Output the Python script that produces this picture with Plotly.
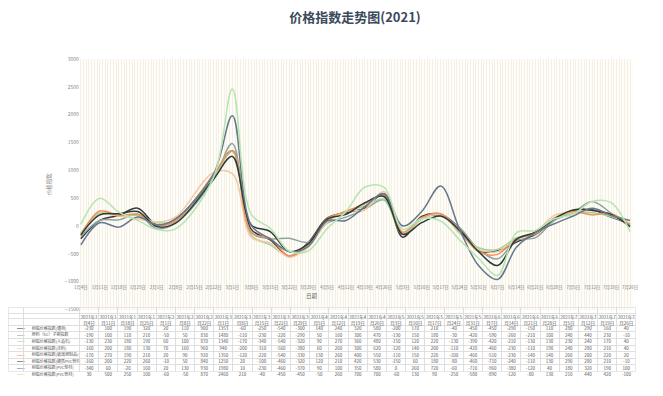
import plotly.graph_objects as go

# ---------------- data ----------------
dates = ['2021-01-04', '2021-01-11', '2021-01-18', '2021-01-25', '2021-02-01', '2021-02-08',
         '2021-02-22', '2021-03-01', '2021-03-08', '2021-03-15', '2021-03-22', '2021-03-29',
         '2021-04-05', '2021-04-12', '2021-04-19', '2021-04-26', '2021-05-03', '2021-05-10',
         '2021-05-17', '2021-05-24', '2021-05-31', '2021-06-07', '2021-06-14', '2021-06-21',
         '2021-06-28', '2021-07-05', '2021-07-12', '2021-07-19', '2021-07-26']

names = ['树脂价格指数(通用)', '原料（EC）子期指数', '树脂价格指数(人造石)', '树脂价格指数(涂料)',
         '树脂价格指数(玻璃钢制品)', '树脂价格指数(硬质PVC管材)', '树脂价格指数(PVC型材)',
         '树脂价格指数(PVC管材)']

s1 = [-230, 100, 190, 320, 20, 110, 900, 1353, -60, -250, -540, -300, 140, 240, 320, 580, -200, 170, 210, -40, -450, -450, -290, -150, 110, 280, 290, 160, 40]
s2 = [-190, 100, 110, 210, -50, 50, 830, 1480, -110, -230, -220, -290, 50, 160, 300, 470, -130, 150, 180, -30, -420, -590, -260, -210, 100, 240, 440, 230, -10]
s3 = [-130, 230, 180, 190, 60, 100, 870, 1340, -170, -340, -540, -320, 90, 270, 360, 480, -150, 120, 220, -130, -390, -420, -210, -130, 130, 230, 240, 170, 40]
s4 = [-160, 200, 180, 130, 70, 160, 960, 940, -200, -310, -560, -380, 60, 260, 300, 620, -120, 140, 200, -110, -420, -460, -230, -110, 190, 240, 280, 210, 40]
s5 = [-170, 270, 190, 210, 20, 90, 920, 1350, -120, -220, -540, -330, 130, 260, 400, 550, -110, 150, 220, -100, -460, -510, -230, -140, 140, 260, 200, 220, 20]
s6 = [-160, 200, 220, 260, -10, 50, 840, 1250, 20, -100, -460, -320, 120, 210, 420, 530, -150, 60, 180, -80, -460, -710, -240, -110, 130, 290, 280, 210, -10]
s7 = [-340, 60, -20, 160, 20, 130, 930, 1980, 10, -230, -460, -370, 90, 100, 350, 580, 0, 260, 720, -60, -710, -960, -380, -120, 40, 180, 320, 190, 100]
s8 = [30, 500, 250, 100, -60, -50, 870, 2460, 210, -40, -450, -450, -50, 260, 700, 700, -60, 130, 90, -250, -580, -890, -120, -80, 130, 210, 440, 420, -100]
series = [s1, s2, s3, s4, s5, s6, s7, s8]

colors = ['#3a3a3a', '#8fa3a0', '#9fd59a', '#f2caa4', '#f0915a', '#2b3b3b', '#66788a', '#b7e4b0']

tick_dates = ['2021-01-04', '2021-01-11', '2021-01-18', '2021-01-25', '2021-02-01', '2021-02-08',
              '2021-02-15', '2021-02-22', '2021-03-01', '2021-03-08', '2021-03-15', '2021-03-22',
              '2021-03-29', '2021-04-05', '2021-04-12', '2021-04-19', '2021-04-26', '2021-05-03',
              '2021-05-10', '2021-05-17', '2021-05-24', '2021-05-31', '2021-06-07', '2021-06-14',
              '2021-06-21', '2021-06-28', '2021-07-05', '2021-07-12', '2021-07-19', '2021-07-26']
tick_labels = ['1月4日', '1月11日', '1月18日', '1月25日', '2月1日', '2月8日', '2月15日', '2月22日',
               '3月1日', '3月8日', '3月15日', '3月22日', '3月29日', '4月5日', '4月12日', '4月19日',
               '4月26日', '5月3日', '5月10日', '5月17日', '5月24日', '5月31日', '6月7日', '6月14日',
               '6月21日', '6月28日', '7月5日', '7月12日', '7月19日', '7月26日']

y_ticks = [-1500, -1000, -500, 0, 500, 1000, 1500, 2000, 2500, 3000]

# ---------------- figure ----------------
W, H = 663, 396
def py(p):  # pixel (from top) -> paper fraction
    return 1 - p / H
def px(p):
    return p / W

fig = go.Figure()
for name, vals, col in zip(names, series, colors):
    fig.add_trace(go.Scatter(x=dates, y=vals, name=name, mode='lines',
                             line=dict(color=col, width=1.5, shape='spline', smoothing=1.0),
                             showlegend=False))

# data table (two header rows, legend-key column + name column + one column per date)
hdr_top = ['', ''] + [f"{d[:4]}年{int(d[5:7])}" for d in dates]
hdr_bot = ['', ''] + [f"月{int(d[8:10])}日" for d in dates]
header_vals = [[a, b] for a, b in zip(hdr_top, hdr_bot)]
key_cells = ['━━━'] * len(names)
cell_vals = [key_cells, names]
for i in range(len(dates)):
    cell_vals.append([str(s[i]) for s in series])
txt = '#555555'
font_colors = [colors, [txt] * len(names)] + [[txt] * len(names)] * len(dates)
font_sizes = [4.5, 4.0] + [4.5] * len(dates)

# plotly draws cell text ~cellPad below the cell top, so the table box is lifted a little
lift = 2
top_px = 311 - lift
fig.add_trace(go.Table(
    domain=dict(x=[px(3), px(641)], y=[py(top_px + 2 * 5.6 + 8 * 6.6 + 12), py(top_px)]),
    columnwidth=[15, 57] + [19.6] * len(dates),
    header=dict(values=header_vals, height=5.6, align='center',
                fill_color='rgba(0,0,0,0)', line=dict(color='#d9d9d9', width=0.6),
                font=dict(size=4.5, color=txt, family='Noto Sans CJK SC')),
    cells=dict(values=cell_vals, height=6.6, align=['left', 'left'] + ['center'] * len(dates),
               fill_color='rgba(0,0,0,0)', line=dict(color='#d9d9d9', width=0.6),
               font=dict(size=font_sizes, color=font_colors, family='Noto Sans CJK SC')),
))

fig.update_layout(
    width=W, height=H,
    margin=dict(l=0, r=0, t=0, b=0),
    paper_bgcolor='white',
    plot_bgcolor='#fefdf9',
    font=dict(family='Noto Sans CJK SC', color='#666666'),
    title=dict(text='<b>价格指数走势图(2021)</b>', x=px(355), xanchor='center',
               y=py(17), yanchor='middle',
               font=dict(size=13, color='#3b4a5c', family='Noto Sans CJK SC')),
    xaxis=dict(domain=[px(75), px(638)], type='date',
               range=['2021-01-03 14:00', '2021-07-27 06:00'],
               anchor='free', position=py(285),
               tickvals=tick_dates, ticktext=tick_labels, tickangle=0,
               tickfont=dict(size=4.4, color='#777777'), ticks='', ticklen=0,
               showline=False, zeroline=False,
               showgrid=True, gridcolor='#f4f0e4', gridwidth=1,
               minor=dict(dtick=86400000, showgrid=True, gridcolor='#f4f0e4', gridwidth=1)),
    yaxis=dict(domain=[py(311), py(56)], range=[-1500, 3000],
               tickvals=y_ticks, tickfont=dict(size=5, color='#888888'),
               showgrid=False, zeroline=False, showline=False, ticks='',
               title=dict(text='价格指数', font=dict(size=5.5, color='#888888'), standoff=12)),
    annotations=[dict(text='日期', x=px(311), y=py(303), xref='paper', yref='paper',
                      showarrow=False, font=dict(size=5.5, color='#666666'))],
)

fig.write_html('out.html', config={'displayModeBar': False},
               post_script="document.body.style.margin='0';")
